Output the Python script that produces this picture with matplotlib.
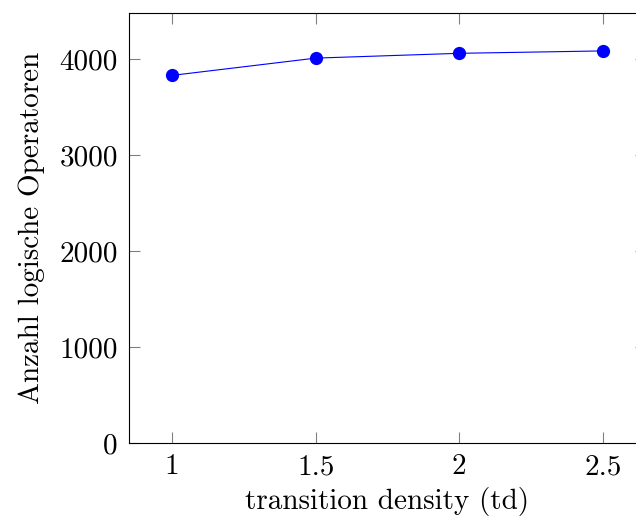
import matplotlib
matplotlib.use("Agg")
import matplotlib.pyplot as plt

# td sweep vs. number of logical operators
td = [1.0, 1.5, 2.0, 2.5]
operators = [3830, 4010, 4060, 4085]
xticks = [1, 1.5, 2, 2.5]
xticklabels = ["1", "1.5", "2", "2.5"]
yticks = [0, 1000, 2000, 3000, 4000]

plt.rcParams["font.family"] = "serif"
plt.rcParams["font.serif"] = ["cmr10", "DejaVu Serif"]
plt.rcParams["axes.formatter.use_mathtext"] = True
plt.rcParams["font.size"] = 21

fig = plt.figure(figsize=(6.36, 5.19), dpi=100)
ax = fig.add_axes([129 / 636, 76 / 519, 517 / 636, 430 / 519])

ax.plot(td, operators, color="blue", linewidth=0.8, marker="o",
        markersize=8.5, markerfacecolor="blue", markeredgecolor="blue")

ax.set_xlim(0.85, 2.65)
ax.set_ylim(0, 4480)
ax.set_xticks(xticks)
ax.set_xticklabels(xticklabels)
ax.set_yticks(yticks)
ax.set_yticklabels([str(v) for v in yticks])

ax.tick_params(direction="in", length=8, width=0.8, color="#808080",
               top=True, right=True, pad=8)
for s in ax.spines.values():
    s.set_linewidth(0.8)

ax.set_xlabel("transition density (td)", labelpad=5)
ax.set_ylabel("Anzahl logische Operatoren", labelpad=10)

fig.savefig("out.png", dpi=100)
